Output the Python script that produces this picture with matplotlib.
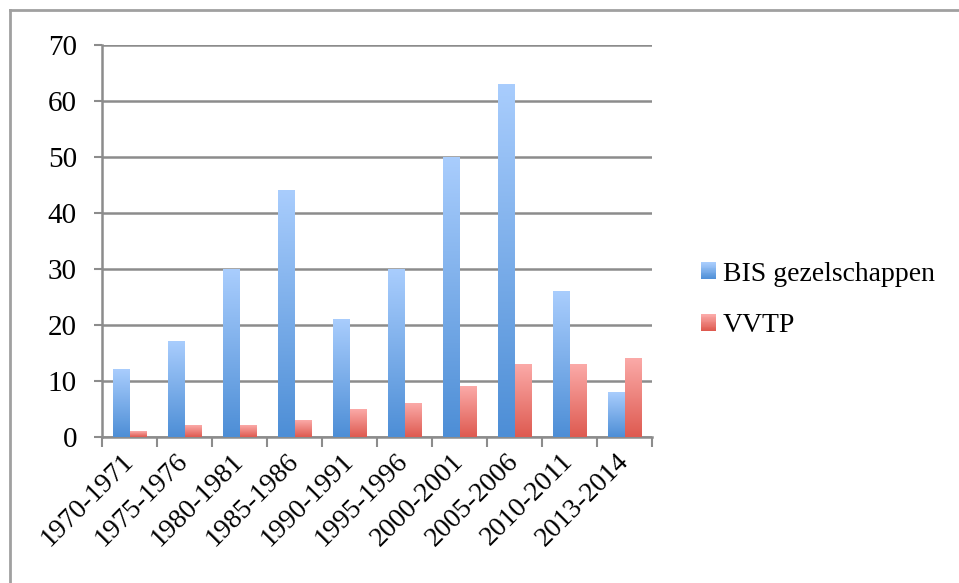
import numpy as np
import matplotlib
matplotlib.use('Agg')
import matplotlib.pyplot as plt
from matplotlib.colors import LinearSegmentedColormap
from matplotlib.patches import Patch, Rectangle
from matplotlib.legend_handler import HandlerBase
from matplotlib.lines import Line2D

# Gegevens uit de grafiek
periodes = ['1970-1971', '1975-1976', '1980-1981', '1985-1986', '1990-1991',
            '1995-1996', '2000-2001', '2005-2006', '2010-2011', '2013-2014']
bis = [12, 17, 30, 44, 21, 30, 50, 63, 26, 8]
vvtp = [1, 2, 2, 3, 5, 6, 9, 13, 13, 14]
yticks = [0, 10, 20, 30, 40, 50, 60, 70]

plt.rcParams['font.family'] = ['Liberation Serif', 'DejaVu Serif']

blauw = LinearSegmentedColormap.from_list('blauw', ['#4d8ed6', '#a9cdfd'])
rood = LinearSegmentedColormap.from_list('rood', ['#de5a50', '#fbaaa8'])
grijs = '#8c8c8c'


class GradientHandler(HandlerBase):
    # legendasymbool met kleurverloop, opgebouwd uit dunne stroken
    def __init__(self, cmap, n=20):
        super().__init__()
        self.cmap = cmap
        self.n = n

    def create_artists(self, legend, orig_handle, xdescent, ydescent,
                       width, height, fontsize, trans):
        stroken = []
        for i in range(self.n):
            r = Rectangle((-xdescent, -ydescent + height * i / self.n),
                          width, height / self.n + 0.3,
                          facecolor=self.cmap(i / (self.n - 1)),
                          edgecolor='none', transform=trans)
            stroken.append(r)
        return stroken


fig = plt.figure(figsize=(9.59, 5.83), dpi=100)
ax = fig.add_axes([102 / 959, 1 - 437 / 583, 550 / 959, 392 / 583])

x = np.arange(len(periodes))
w = 0.3
bars_b = ax.bar(x - w / 2, bis, w, color='none', zorder=3)
bars_r = ax.bar(x + w / 2, vvtp, w, color='none', zorder=3)

# kleurverloop in de staven
grad = np.linspace(0, 1, 256).reshape(-1, 1)
for bars, cmap in ((bars_b, blauw), (bars_r, rood)):
    for b in bars:
        x0, y0 = b.get_x(), b.get_y()
        bw, bh = b.get_width(), b.get_height()
        ax.imshow(grad, cmap=cmap, origin='lower', aspect='auto',
                  extent=[x0, x0 + bw, y0, y0 + bh], zorder=3)

ax.set_xlim(-0.5, len(periodes) - 0.5)
ax.set_ylim(0, 70)
ax.set_yticks(yticks)
ax.set_yticklabels([str(t) for t in yticks], fontsize=21)
ax.yaxis.grid(True, color=grijs, linewidth=1.8, zorder=0)
ax.set_axisbelow(True)

ax.set_xticks(np.arange(-0.5, len(periodes), 1.0), minor=False)
ax.set_xticklabels([])
ax.set_xticks(x, minor=True)
ax.set_xticklabels(periodes, minor=True, rotation=45, ha='right', va='center',
                   rotation_mode='anchor', fontsize=20)
ax.tick_params(axis='x', which='minor', length=0, pad=15)
ax.tick_params(axis='x', which='major', length=7, width=1.5, color=grijs)
ax.tick_params(axis='y', length=6, width=1.5, color=grijs, pad=12)

for s in ('top', 'right'):
    ax.spines[s].set_visible(False)
for s in ('left', 'bottom'):
    ax.spines[s].set_color(grijs)
    ax.spines[s].set_linewidth(1.8)

h_bis = Patch(label='BIS gezelschappen')
h_vvtp = Patch(label='VVTP')
fig.legend(handles=[h_bis, h_vvtp], loc='center left',
           bbox_to_anchor=(687 / 959, 1 - 300 / 583),
           handler_map={h_bis: GradientHandler(blauw), h_vvtp: GradientHandler(rood)},
           frameon=False, fontsize=20, borderpad=0, handlelength=0.55,
           handleheight=0.55, handletextpad=0.25, labelspacing=0.95)

# rand van de afbeelding (alleen links en boven zichtbaar)
fig.add_artist(Line2D([10 / 959, 10 / 959], [0, 1 - 10 / 583], transform=fig.transFigure,
                      color='#a0a0a0', linewidth=2))
fig.add_artist(Line2D([10 / 959, 1], [1 - 10 / 583, 1 - 10 / 583], transform=fig.transFigure,
                      color='#a0a0a0', linewidth=2))

fig.savefig('out.png', dpi=100)
